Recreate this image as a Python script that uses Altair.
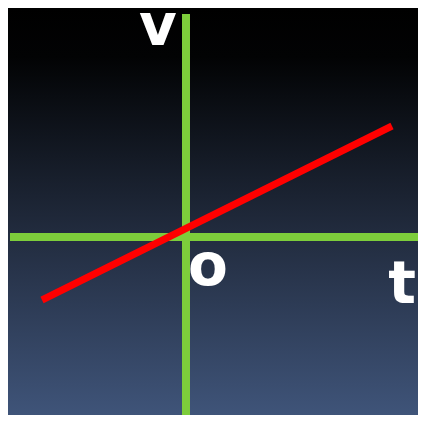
import altair as alt
import pandas as pd

# Data (arbitrary units, origin at axes crossing)
axis_names = ["vertical", "horizontal"]
axis_x1 = [0.0, -17.6]
axis_x2 = [0.0, 23.2]
axis_y1 = [22.3, 0.0]
axis_y2 = [-17.8, 0.0]

line_x = [-14.4, 20.6]
line_y = [-6.3, 11.1]

label_text = ["v", "o", "t"]
label_x = [-2.8, 2.2, 21.6]
label_y = [19.2, -4.8, -6.6]

x_domain = [-17.8, 23.2]
y_domain = [-17.8, 22.9]

xs = alt.Scale(domain=x_domain, nice=False, zero=False)
ys = alt.Scale(domain=y_domain, nice=False, zero=False)

bg_df = pd.DataFrame({"x": [x_domain[0]], "x2": [x_domain[1]], "y": [y_domain[0]], "y2": [y_domain[1]]})
grad = alt.Gradient(
    gradient="linear", x1=0, y1=0, x2=0, y2=1,
    stops=[
        alt.GradientStop(offset=0.0, color="#000000"),
        alt.GradientStop(offset=0.12, color="#020304"),
        alt.GradientStop(offset=0.56, color="#222c3f"),
        alt.GradientStop(offset=1.0, color="#3f5479"),
    ],
)
bg = alt.Chart(bg_df).mark_rect(fill=grad, strokeWidth=0).encode(
    x=alt.X("x:Q", scale=xs, axis=None), x2="x2:Q",
    y=alt.Y("y:Q", scale=ys, axis=None), y2="y2:Q",
)

ax_df = pd.DataFrame({"name": axis_names, "x": axis_x1, "x2": axis_x2, "y": axis_y1, "y2": axis_y2})
axes = alt.Chart(ax_df).mark_rule(color="#7dcd3b", strokeWidth=8).encode(
    x=alt.X("x:Q", scale=xs, axis=None), x2="x2:Q",
    y=alt.Y("y:Q", scale=ys, axis=None), y2="y2:Q",
)

ln_df = pd.DataFrame({"x": line_x, "y": line_y})
red = alt.Chart(ln_df).mark_line(color="#ff0000", strokeWidth=7).encode(
    x=alt.X("x:Q", scale=xs, axis=None),
    y=alt.Y("y:Q", scale=ys, axis=None),
)

lb_df = pd.DataFrame({"t": label_text, "x": label_x, "y": label_y})
labels = alt.Chart(lb_df).mark_text(
    color="white", font="DejaVu Sans", fontWeight="bold", fontSize=58,
    align="center", baseline="alphabetic",
).encode(
    x=alt.X("x:Q", scale=xs, axis=None),
    y=alt.Y("y:Q", scale=ys, axis=None),
    text="t:N",
)

chart = alt.layer(bg, axes, red, labels).properties(
    width=410, height=407, padding=0, autosize=alt.AutoSizeParams(type="none"),
    background="#000000",
).configure_view(stroke=None)

chart.save("out.html", embed_options={"renderer": "svg", "actions": False})
